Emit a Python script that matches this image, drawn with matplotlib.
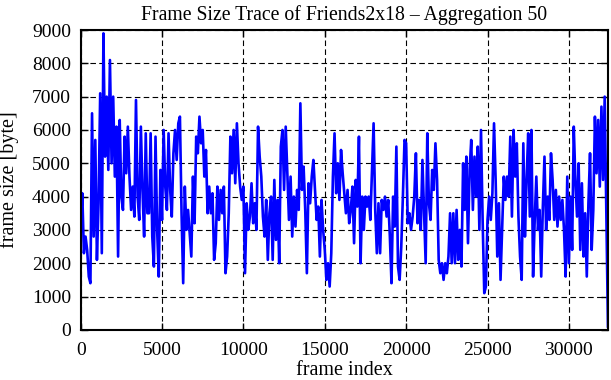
import numpy as np
import matplotlib
matplotlib.use('Agg')
import matplotlib.pyplot as plt

# frame sizes, one value every 100 frames
frame_step = 100
frame_size = [
    3000, 4100, 2300, 2800, 2400, 1600, 1400, 6500, 2800, 5700,
    2100, 3800, 7100, 2300, 8900, 5200, 7000, 4800, 8100, 5000,
    7000, 4600, 6100, 2200, 6300, 4000, 3600, 5800, 4700, 6100,
    4600, 3600, 4300, 3400, 6900, 4000, 3300, 6100, 4200, 2800,
    5900, 3500, 3500, 5900, 2800, 1900, 5800, 3000, 1600, 4800,
    3300, 6000, 4300, 3600, 5900, 4200, 3400, 5300, 6000, 5100,
    6200, 6400, 3500, 1400, 4300, 3000, 3600, 2900, 2200, 4600,
    3200, 5800, 5300, 6400, 5600, 6000, 4600, 5400, 3500, 4300,
    3500, 4100, 2100, 2600, 4300, 3300, 4200, 3500, 4300, 1700,
    2200, 3500, 5800, 4700, 6000, 4400, 6200, 5000, 4300, 3900,
    4300, 1700, 3800, 3000, 3400, 4400, 3200, 3800, 3000, 6100,
    5200, 4600, 3400, 2800, 3900, 2100, 3500, 4000, 2100, 4500,
    2700, 3900, 2000, 5500, 6000, 4200, 6100, 4700, 3300, 4600,
    2800, 4000, 3100, 4200, 3600, 6800, 4200, 4900, 3600, 1700,
    4400, 3800, 4600, 5100, 4200, 3300, 3700, 2200, 3900, 3000,
    2400, 1500, 2000, 1300, 2300, 4600, 5900, 4100, 5000, 3900,
    5400, 4700, 4100, 3500, 4200, 3200, 3600, 4300, 2600, 4500,
    3700, 5800, 2000, 4000, 3000, 4000, 3700, 4000, 3300, 4800,
    6200, 3600, 2300, 3800, 2300, 3900, 3600, 4000, 3400, 3900,
    2800, 1400, 4000, 3100, 5500, 1900, 1500, 2500, 4000, 5700,
    5600, 3200, 3500, 3000, 3400, 4000, 5300, 3200, 3900, 3000,
    5100, 3500, 2000, 5900, 3800, 3300, 4800, 4200, 5600, 4500,
    2100, 1700, 2000, 1500, 2000, 1700, 2200, 3500, 2000, 3500,
    2000, 3600, 2100, 3000, 1900, 5000, 3600, 5200, 2600, 4800,
    5700, 3600, 5200, 4000, 5500, 3000, 6000, 3300, 1100, 1300,
    3300, 4000, 3300, 4100, 6200, 4500, 2200, 3800, 1500, 3000,
    4600, 3900, 4600, 4000, 5800, 3400, 6000, 4600, 5600, 3400,
    2200, 1500, 5600, 2800, 4500, 5900, 3400, 6000, 1600, 3300,
    4600, 3000, 3600, 1600, 3700, 5200, 3000, 4000, 3300, 5300,
    4500, 3300, 4200, 3100, 4000, 3300, 3900, 3000, 1600, 4600,
    2000, 4000, 2400, 6100, 4500, 3400, 5000, 2400, 4400, 2200,
    3500, 1600, 3800, 5300, 2400, 3600, 6400, 4700, 6300, 4300,
    6700, 4500, 7000, 3500, 100,
]
frame_index = np.arange(len(frame_size)) * frame_step

x_ticks = [0, 5000, 10000, 15000, 20000, 25000, 30000]
y_ticks = [0, 1000, 2000, 3000, 4000, 5000, 6000, 7000, 8000, 9000]

plt.rcParams['font.family'] = ['Liberation Serif', 'DejaVu Serif']

fig = plt.figure(figsize=(6.11, 3.8), dpi=100)
ax = fig.add_axes([0.132, 0.132, 0.863, 0.789])

ax.plot(frame_index, frame_size, color='#0000ff', linewidth=1.9)

ax.set_xlim(0, frame_index[-1])
ax.set_ylim(0, 9000)
ax.set_xticks(x_ticks)
ax.set_yticks(y_ticks)
ax.grid(True, color='black', linestyle=(0, (5, 3)), linewidth=0.8)
ax.tick_params(direction='in', length=5, width=1, top=True, right=True,
               labelsize=14)
ax.tick_params(axis='y', pad=7)
ax.tick_params(axis='x', pad=9)
for s in ax.spines.values():
    s.set_linewidth(1.5)

ax.set_title('Frame Size Trace of Friends2x18 \u2013 Aggregation 50', fontsize=14.2, pad=7)
ax.set_xlabel('frame index', fontsize=14.5, labelpad=1)
ax.set_ylabel('frame size [byte]', fontsize=14.5, labelpad=9)

fig.savefig('out.png', dpi=100)
